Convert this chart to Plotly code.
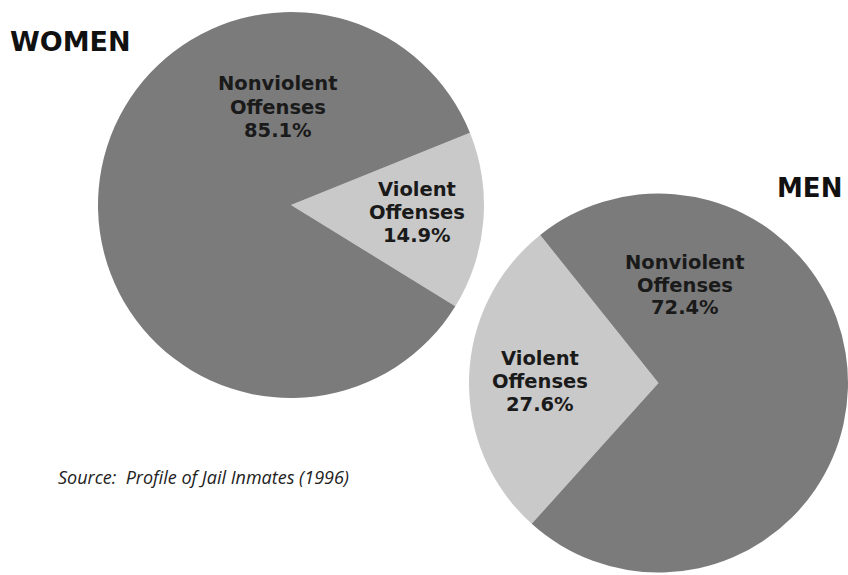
import plotly.graph_objects as go

# ---- data ----
categories = ["Violent Offenses", "Nonviolent Offenses"]
women_pct = [14.9, 85.1]
men_pct = [27.6, 72.4]
group_titles = ["WOMEN", "MEN"]
source_note = "Source:  Profile of Jail Inmates (1996)"

W, H = 848, 575
DARK = "#7b7b7b"
LIGHT = "#c9c9c9"
slice_colors = [LIGHT, DARK]


def px_x(x):
    return x / W


def px_y(y):
    return 1 - y / H


def pie_domain(cx, cy, r):
    return dict(x=[max(0, (cx - r) / W), min(1, (cx + r) / W)],
                y=[max(0, 1 - (cy + r) / H), min(1, 1 - (cy - r) / H)])


fig = go.Figure()

fig.add_trace(go.Pie(
    labels=categories, values=women_pct, sort=False, direction="clockwise",
    rotation=68, marker=dict(colors=slice_colors, line=dict(width=0)),
    textinfo="none", hoverinfo="label+percent", showlegend=False,
    domain=pie_domain(291, 205, 193),
))

fig.add_trace(go.Pie(
    labels=categories, values=men_pct, sort=False, direction="clockwise",
    rotation=222, marker=dict(colors=slice_colors, line=dict(width=0)),
    textinfo="none", hoverinfo="label+percent", showlegend=False,
    domain=pie_domain(658.5, 383, 189.5),
))


def label_lines(cat, pct):
    a, b = cat.split(" ")
    return [a, b, f"{pct:.1f}%"]


LABEL_FONT = dict(family="DejaVu Sans", size=19.5, color="#1a1a1a")
LINE_GAP = 23
annotations = []
label_pos = {  # centre of middle line, page pixels
    ("w", 0): (417, 212),
    ("w", 1): (278, 107),
    ("m", 0): (540, 381),
    ("m", 1): (685, 285),
}
for key, vals in (("w", women_pct), ("m", men_pct)):
    for i, cat in enumerate(categories):
        x, y = label_pos[(key, i)]
        for j, line in enumerate(label_lines(cat, vals[i])):
            annotations.append(dict(
                x=px_x(x), y=px_y(y + (j - 1) * LINE_GAP),
                xref="paper", yref="paper",
                text="<b>" + line + "</b>",
                showarrow=False, xanchor="center", yanchor="middle",
                font=LABEL_FONT,
            ))

TITLE_FONT = dict(family="DejaVu Sans", size=27, color="#111111")
annotations.append(dict(
    x=px_x(8), y=px_y(42), xref="paper", yref="paper",
    text="<b>" + group_titles[0] + "</b>", showarrow=False,
    xanchor="left", yanchor="middle", font=TITLE_FONT,
))
annotations.append(dict(
    x=px_x(844), y=px_y(188), xref="paper", yref="paper",
    text="<b>" + group_titles[1] + "</b>", showarrow=False,
    xanchor="right", yanchor="middle",
    font=dict(family="DejaVu Sans", size=26, color="#111111"),
))
annotations.append(dict(
    x=px_x(56), y=px_y(477), xref="paper", yref="paper",
    text="<i>" + source_note + "</i>", showarrow=False,
    xanchor="left", yanchor="middle",
    font=dict(family="Open Sans", size=18, color="#222222"),
))

fig.update_layout(
    width=W, height=H,
    margin=dict(l=0, r=0, t=0, b=0),
    paper_bgcolor="white", plot_bgcolor="white",
    annotations=annotations,
    showlegend=False,
)

fig.write_html(
    "out.html",
    config={"displayModeBar": False},
    post_script="document.body.style.margin='0';"
                "document.body.style.overflow='hidden';",
)
